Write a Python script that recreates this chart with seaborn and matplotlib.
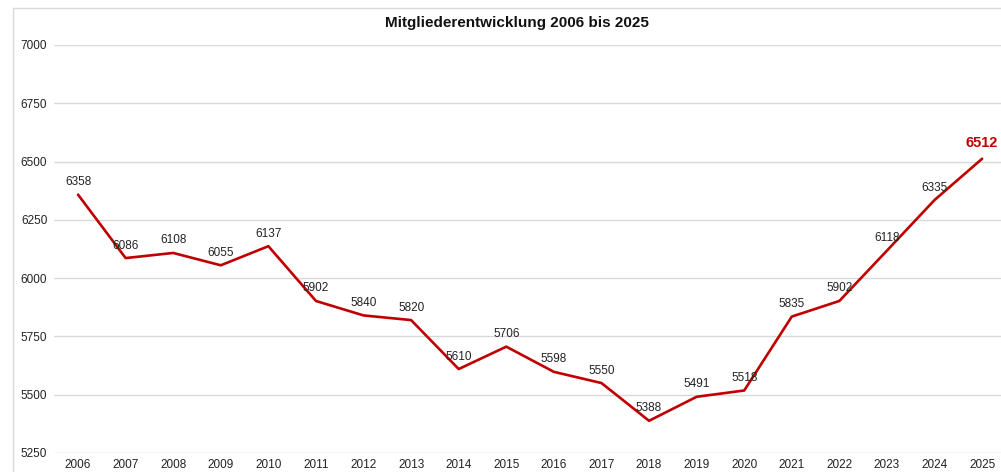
import pandas as pd
import seaborn as sns
import matplotlib.pyplot as plt
from matplotlib.lines import Line2D

# Mitgliederzahlen je Jahr
jahre = ['2006', '2007', '2008', '2009', '2010', '2011', '2012', '2013', '2014', '2015',
         '2016', '2017', '2018', '2019', '2020', '2021', '2022', '2023', '2024', '2025']
mitglieder = [6358, 6086, 6108, 6055, 6137, 5902, 5840, 5820, 5610, 5706,
              5598, 5550, 5388, 5491, 5518, 5835, 5902, 6118, 6335, 6512]
y_ticks = [5250, 5500, 5750, 6000, 6250, 6500, 6750, 7000]

df = pd.DataFrame({'Jahr': jahre, 'Mitglieder': mitglieder})

sns.set_style('white')
plt.rcParams['font.family'] = ['Liberation Sans', 'DejaVu Sans']

rot = '#c00000'
grau = '#d9d9d9'

fig = plt.figure(figsize=(10.01, 4.72), dpi=100)
# Achse geht rechts ueber den Bildrand hinaus (Bild ist abgeschnitten)
ax = fig.add_axes([0.0542, 0.0403, 0.9507, 0.8644])

sns.lineplot(data=df, x='Jahr', y='Mitglieder', ax=ax, color=rot, linewidth=1.9, sort=False)

ax.set_xlim(-0.5, len(jahre) - 0.5)
ax.set_ylim(5250, 7000)
ax.set_yticks(y_ticks)
ax.set_yticklabels([str(t) for t in y_ticks])
ax.yaxis.grid(True, color=grau, linewidth=1)
ax.xaxis.grid(False)
for s in ax.spines.values():
    s.set_visible(False)
ax.tick_params(axis='both', length=0, labelsize=8.5, colors='#222222')
ax.tick_params(axis='y', pad=5)
ax.tick_params(axis='x', pad=4)
ax.set_xlabel('')
ax.set_ylabel('')

for i, wert in enumerate(mitglieder):
    if i == len(mitglieder) - 1:
        ax.annotate(str(wert), (i, wert), xytext=(0, 11), textcoords='offset points',
                    ha='center', va='center', fontsize=10.5, fontweight='bold', color=rot)
    else:
        ax.annotate(str(wert), (i, wert), xytext=(0, 9), textcoords='offset points',
                    ha='center', va='center', fontsize=8.5, color='#222222')

fig.text(0.516, 0.952, 'Mitgliederentwicklung 2006 bis 2025', ha='center', va='center',
         fontsize=11, fontweight='bold', color='#111111')

# Rahmen des Diagrammbereichs (links und oben)
fig.add_artist(Line2D([0.013, 0.013], [0, 0.983], color=grau, linewidth=1, transform=fig.transFigure))
fig.add_artist(Line2D([0.013, 1.0], [0.983, 0.983], color=grau, linewidth=1, transform=fig.transFigure))

fig.savefig('out.png', dpi=100)
